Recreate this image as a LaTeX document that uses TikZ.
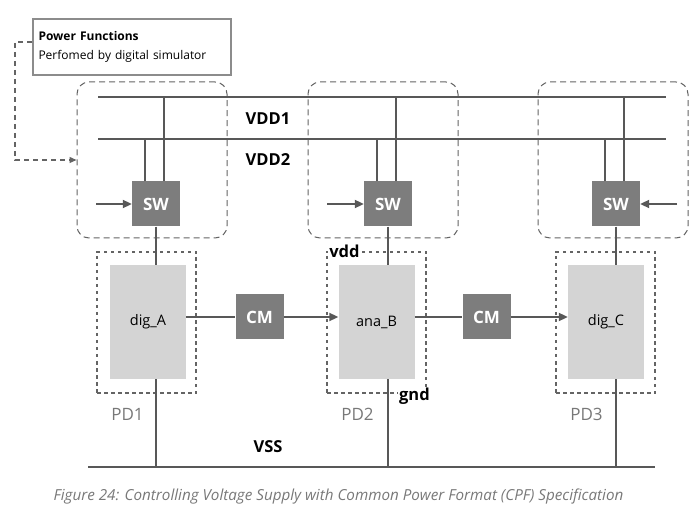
\documentclass[tikz,border=0pt]{standalone}
\usepackage{fontspec}
\setmainfont{Open Sans}
\usepackage{tikz}
\usetikzlibrary{arrows.meta, positioning}

\definecolor{wiregray}{RGB}{88,88,88}
\definecolor{swgray}{RGB}{125,125,125}
\definecolor{blockgray}{RGB}{212,212,212}
\definecolor{dashgray}{RGB}{100,100,100}
\definecolor{framegray}{RGB}{140,140,140}
\definecolor{labelgray}{RGB}{120,120,120}

\tikzset{
    wire/.style={draw=wiregray, line width=2pt},
    flowarrow/.style={-{Triangle[length=9pt,width=8pt]}},
    feedback/.style={draw=dashgray, line width=1.3pt, dash pattern=on 5pt off 4pt, -{Triangle[length=7pt,width=6pt]}},
    pwrdomain/.style={draw=dashgray, line width=1pt, dash pattern=on 6pt off 4pt, rounded corners=12pt, minimum width=150pt, minimum height=156pt},
    pdbox/.style={draw=dashgray, line width=1.8pt, dash pattern=on 3.5pt off 3.5pt, minimum width=99pt, minimum height=141pt},
    block/.style={fill=blockgray, minimum width=76pt, minimum height=114pt, inner sep=0pt, font=\fontsize{14.5}{14.5}\selectfont},
    swbox/.style={fill=swgray, text=white, minimum width=48pt, minimum height=45pt, inner sep=0pt, font=\bfseries\fontsize{17}{17}\selectfont},
    railtxt/.style={font=\bfseries\fontsize{16.5}{16.5}\selectfont},
    pdtxt/.style={text=labelgray, font=\fontsize{17}{17}\selectfont},
    infobox/.style={draw=framegray, line width=2pt, minimum width=198pt, minimum height=56pt, text width=187pt, inner xsep=5.5pt, align=left, font=\fontsize{12}{19}\selectfont},
    captxt/.style={text=labelgray, font=\itshape\fontsize{15.2}{15.2}\selectfont}
}

\begin{document}
\begin{tikzpicture}[x=1pt, y=-1pt]
    \useasboundingbox (0,0) rectangle (699,521);

    % info box and power domains
    \node[infobox] (info) at (132,47) {\textbf{Power Functions}\\ Perfomed by digital simulator};
    \foreach \i/\x in {1/152, 2/383, 3/613}
        \node[pwrdomain] (dom\i) at (\x,160) {};
    \draw[feedback] ([yshift=5pt]info.west) -- ++(-17,0) |- (dom1.west);

    % supply rails
    \coordinate (vdd1w) at (98,97);
    \coordinate (vdd1e) at (666,97);
    \coordinate (vdd2w) at (98,139);
    \coordinate (vdd2e) at (666,139);
    \coordinate (vssw) at (88,467);
    \coordinate (vsse) at (655,467);
    \draw[wire] (vdd1w) -- (vdd1e);
    \draw[wire] (vdd2w) -- (vdd2e);
    \draw[wire] (vssw) -- (vsse);
    \node[railtxt] (vdd1lbl) at (268,119) {VDD1};
    \node[railtxt] (vdd2lbl) at (268,160) {VDD2};
    \node[railtxt] (vsslbl) at (268,447) {VSS};

    % switches
    \foreach \i/\x in {1/156, 2/388, 3/616} {
        \node[swbox] (sw\i) at (\x,204) {SW};
        \draw[wire] ([xshift=-11pt]sw\i.north) -- ([xshift=-11pt]sw\i.north |- vdd2w);
        \draw[wire] ([xshift=8pt]sw\i.north) -- ([xshift=8pt]sw\i.north |- vdd1w);
    }
    \coordinate (in1) at (96,204);
    \coordinate (in2) at (327,204);
    \coordinate (in3) at (677,204);
    \draw[wire, flowarrow] (in1) -- (sw1.west);
    \draw[wire, flowarrow] (in2) -- (sw2.west);
    \draw[wire, flowarrow] (in3) -- (sw3.east);

    % blocks in their domains
    \foreach \i/\x/\bx/\txt in {1/146.5/148/dig\_A, 2/376.5/376.5/ana\_B, 3/605.5/606/dig\_C} {
        \node[pdbox] (pd\i) at (\x,322.5) {};
        \node[block] (blk\i) at (\bx,322) {\txt};
        \node[pdtxt, below=11pt of pd\i.south, xshift=-19pt] (lblpd\i) {PD\i};
        \draw[wire] (sw\i.south) -- (sw\i.south |- blk\i.north);
        \draw[wire] (sw\i.south |- blk\i.south) -- (sw\i.south |- vssw);
    }
    \node[railtxt, fill=white, inner sep=1pt, anchor=west] (vddlbl) at ([xshift=2pt]pd2.north west) {vdd};
    \node[railtxt, fill=white, inner sep=1pt, anchor=east] (gndlbl) at ([xshift=4pt,yshift=-2pt]pd2.south east) {gnd};

    % converters
    \node[swbox] (cm1) at (259.5,317) {CM};
    \node[swbox] (cm2) at (486.5,317) {CM};
    \draw[wire] (blk1.east |- cm1.west) -- (cm1.west);
    \draw[wire, flowarrow] (cm1.east) -- (blk2.west |- cm1.east);
    \draw[wire] (blk2.east |- cm2.west) -- (cm2.west);
    \draw[wire, flowarrow] (cm2.east) -- (blk3.west |- cm2.east);

    \node[captxt] (caption) at (338.5,497) {Figure 24: Controlling Voltage Supply with Common Power Format (CPF) Specification};
\end{tikzpicture}
\end{document}
